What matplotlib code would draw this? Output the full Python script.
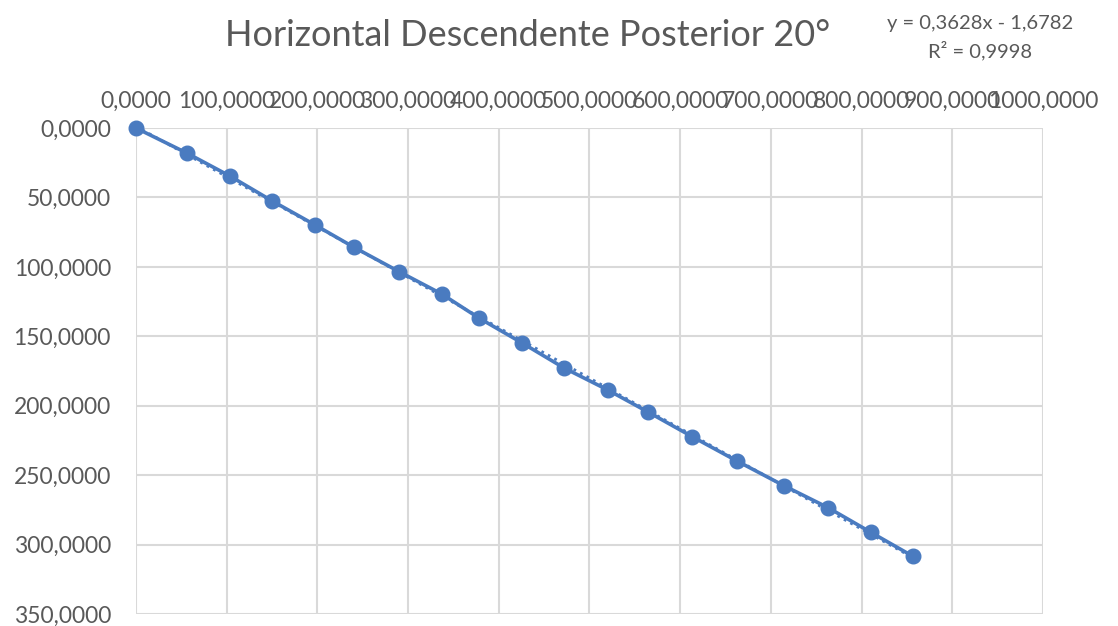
import numpy as np
import matplotlib.pyplot as plt
from matplotlib.ticker import FuncFormatter

plt.rcParams['font.family'] = ['Lato', 'DejaVu Sans']

# valores
x_vals = [0, 56.6, 103.6, 149.6, 197.4, 240.4, 290.3, 337.0, 378.5, 425.2,
          471.9, 520.0, 564.5, 613.0, 662.3, 714.1, 763.0, 810.0, 857.0]
y_vals = [0, 18.2, 34.6, 52.3, 69.8, 85.9, 103.5, 119.5, 137.0, 154.6,
          172.8, 188.6, 204.5, 222.2, 239.7, 257.5, 273.4, 291.1, 308.6]
titulo = 'Horizontal Descendente Posterior 20°'
ecuacion = 'y = 0,3628x - 1,6782\nR² = 0,9998'

azul = '#4a7bc0'
gris = '#595959'

fig = plt.figure(figsize=(11.18, 6.26), dpi=100)
ax = fig.add_axes([0.1216, 0.0192, 0.8113, 0.7763])

ax.plot(x_vals, y_vals, color=azul, linewidth=2.6, marker='o', markersize=10.5,
        zorder=3, clip_on=False)

# linea de tendencia
m, b = np.polyfit(x_vals, y_vals, 1)
xt = np.array([x_vals[0], x_vals[-1]])
ax.plot(xt, m * xt + b, color=azul, linewidth=2, linestyle=':', zorder=2)

ax.set_xlim(0, 1000)
ax.set_ylim(350, 0)
ax.set_xticks(range(0, 1001, 100))
ax.set_yticks(range(0, 351, 50))
fmt = FuncFormatter(lambda v, p: f'{v:.4f}'.replace('.', ','))
ax.xaxis.set_major_formatter(fmt)
ax.yaxis.set_major_formatter(fmt)
ax.xaxis.tick_top()
ax.tick_params(axis='both', length=0, labelsize=16.5, labelcolor=gris)
ax.tick_params(axis='x', pad=12)
ax.tick_params(axis='y', pad=18)
ax.grid(True, color='#d9d9d9', linewidth=1.5)
ax.set_axisbelow(True)
for s in ax.spines.values():
    s.set_visible(False)

fig.text(0.472, 0.944, titulo, ha='center', va='center', fontsize=26, color=gris)
fig.text(0.877, 0.94, ecuacion, ha='center', va='center', fontsize=14.5,
         color=gris, linespacing=1.55)

fig.savefig('out.png', dpi=100, facecolor='white')
